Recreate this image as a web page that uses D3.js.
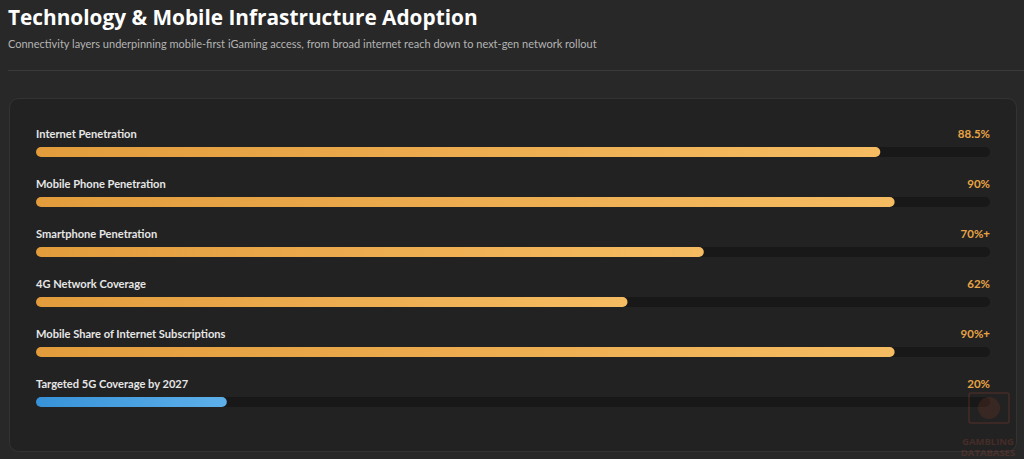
<!DOCTYPE html>
<html><head><meta charset="utf-8">
<script src="https://cdn.jsdelivr.net/npm/d3@7"></script>
<style>
html,body{margin:0;padding:0;background:#282828;overflow:hidden;}
svg{display:block;}
</style></head>
<body>
<svg id="chart" width="1024" height="459"></svg>
<script>
const categories = ["Internet Penetration","Mobile Phone Penetration","Smartphone Penetration","4G Network Coverage","Mobile Share of Internet Subscriptions","Targeted 5G Coverage by 2027"];
const values = [88.5, 90, 70, 62, 90, 20];
const valueLabels = ["88.5%","90%","70%+","62%","90%+","20%"];
const seriesType = ["current","current","current","current","current","target"];

const svg = d3.select("#chart");
const W = 1024, H = 459;
const font = "'Open Sans', 'Noto Sans', sans-serif";
const font2 = "Lato, 'Open Sans', sans-serif";

const defs = svg.append("defs");
const gO = defs.append("linearGradient").attr("id","gOrange").attr("x1","0%").attr("x2","100%");
gO.append("stop").attr("offset","0%").attr("stop-color","#e29c3c");
gO.append("stop").attr("offset","100%").attr("stop-color","#f6bc62");
const gB = defs.append("linearGradient").attr("id","gBlue").attr("x1","0%").attr("x2","100%");
gB.append("stop").attr("offset","0%").attr("stop-color","#3792d8");
gB.append("stop").attr("offset","100%").attr("stop-color","#5db0ea");

svg.append("rect").attr("width",W).attr("height",H).attr("fill","#282828");

svg.append("text").attr("x",8).attr("y",25).attr("fill","#ffffff")
  .attr("font-family",font).attr("font-weight",700).attr("font-size",20.8)
  .text("Technology & Mobile Infrastructure Adoption");
svg.append("text").attr("x",8).attr("y",48).attr("fill","#b4b4b4")
  .attr("font-family",font2).attr("font-size",11)
  .text("Connectivity layers underpinning mobile-first iGaming access, from broad internet reach down to next-gen network rollout");
svg.append("line").attr("x1",8).attr("x2",1024).attr("y1",70.5).attr("y2",70.5)
  .attr("stroke","#3a3a3a").attr("stroke-width",1);

// card
svg.append("rect").attr("x",9.5).attr("y",98.5).attr("width",1007).attr("height",353)
  .attr("rx",9).attr("fill","#222222").attr("stroke","#333333");

const x = d3.scaleLinear().domain([0,100]).range([36,990]);
const y = d3.scaleBand().domain(categories).range([122,422]).paddingInner(0).paddingOuter(0);
const barH = 10;

const rows = svg.selectAll("g.row").data(categories).join("g").attr("class","row")
  .attr("transform", d => `translate(0,${y(d)})`);

rows.append("text").attr("x",x(0)).attr("y",16).attr("fill","#e6e6e6")
  .attr("font-family",font2).attr("font-size",11.1).attr("font-weight",700)
  .text(d => d);
rows.append("text").attr("x",x(100)).attr("y",16).attr("text-anchor","end").attr("fill","#e8a445")
  .attr("font-family",font2).attr("font-size",11.5).attr("font-weight",700)
  .text((d,i) => valueLabels[i]);
rows.append("rect").attr("x",x(0)).attr("y",25).attr("width",x(100)-x(0)).attr("height",barH)
  .attr("rx",barH/2).attr("fill","#181818");
rows.append("rect").attr("x",x(0)).attr("y",25).attr("width",(d,i)=>x(values[i])-x(0)).attr("height",barH)
  .attr("rx",barH/2).attr("fill",(d,i)=> seriesType[i]==="target" ? "url(#gBlue)" : "url(#gOrange)");

// watermark
const wm = svg.append("g").attr("opacity",0.22);
wm.append("rect").attr("x",969).attr("y",393).attr("width",40).attr("height",30).attr("rx",2).attr("fill","none").attr("stroke","#c0503a").attr("stroke-width",1.5);
wm.append("circle").attr("cx",989).attr("cy",408).attr("r",11).attr("fill","#8a3a2a");
wm.append("text").attr("x",988).attr("y",445).attr("text-anchor","middle").attr("fill","#c0503a")
  .attr("font-family",font).attr("font-weight",700).attr("font-size",9.5).text("GAMBLING");
wm.append("text").attr("x",988).attr("y",456).attr("text-anchor","middle").attr("fill","#c0503a")
  .attr("font-family",font).attr("font-weight",700).attr("font-size",9.5).text("DATABASES");
</script>
</body></html>
